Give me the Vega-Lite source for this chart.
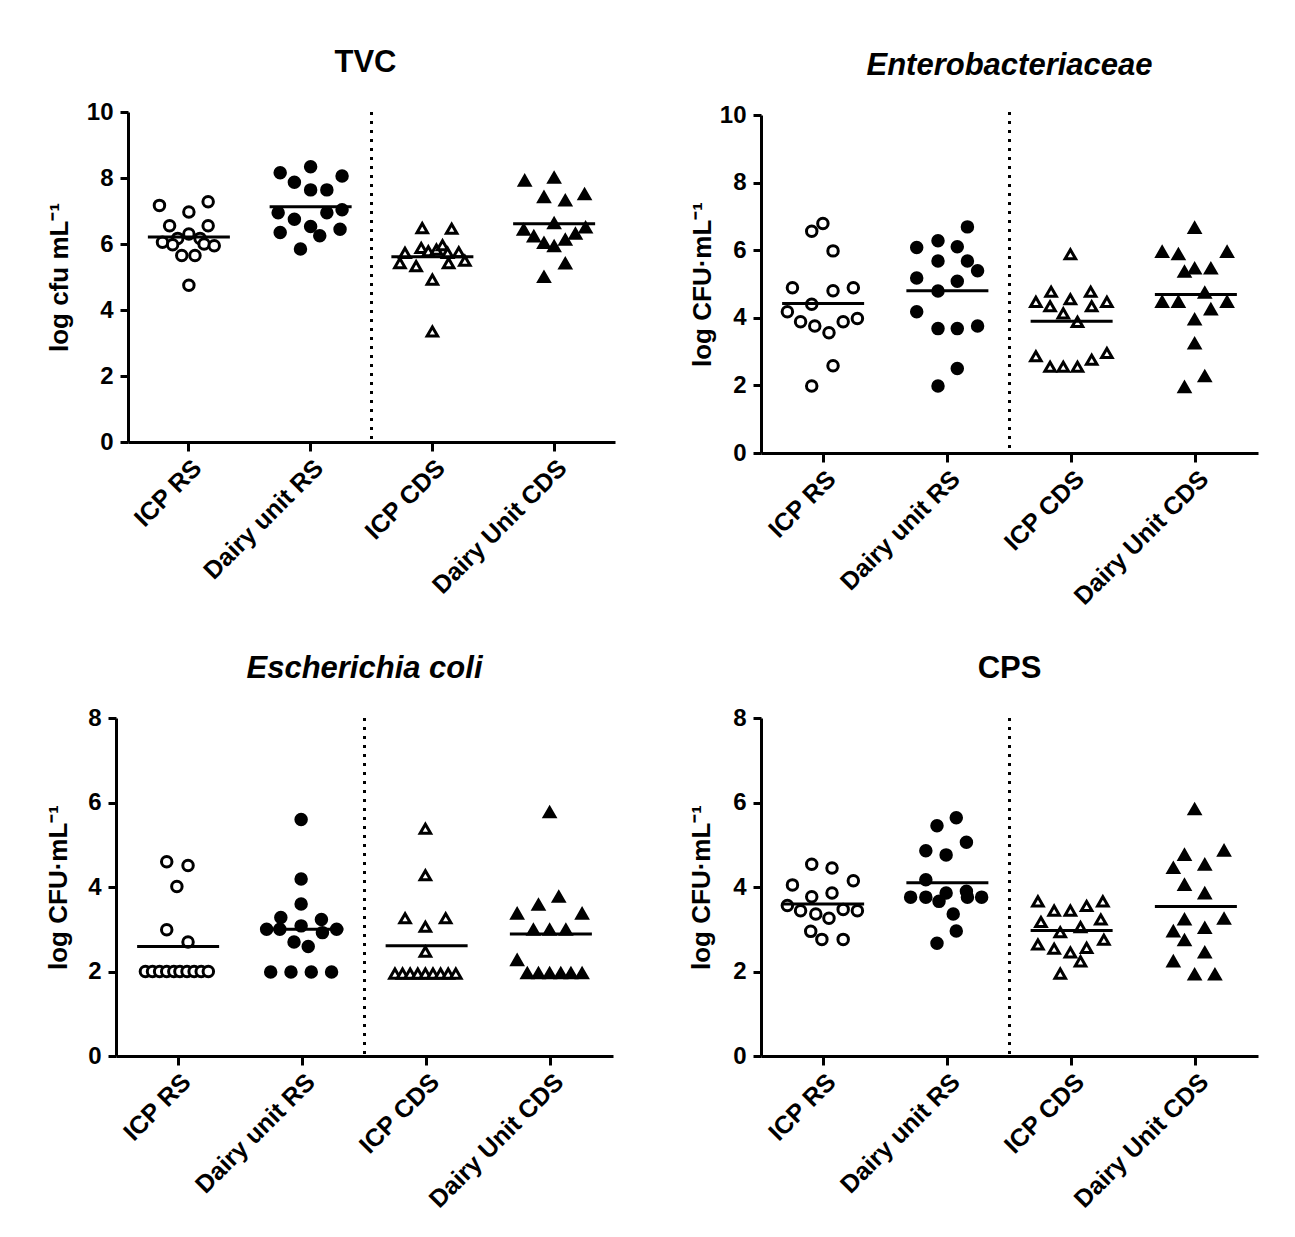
{
  "$schema": "https://vega.github.io/schema/vega-lite/v6.json",
  "background": "white",
  "padding": {"left": 45, "top": 47, "right": 5, "bottom": 5},
  "config": {
    "view": {"stroke": null},
    "font": "Liberation Sans",
    "title": {"font": "Liberation Sans", "fontSize": 31, "fontWeight": "bold", "color": "black", "anchor": "middle", "offset": 21},
    "axis": {"domainColor": "black", "domainWidth": 3, "tickColor": "black", "tickWidth": 3, "tickSize": 8, "labelFont": "Liberation Sans", "labelFontWeight": "bold", "labelFontSize": 24, "labelColor": "black", "titleFont": "Liberation Sans", "titleFontWeight": "bold", "titleFontSize": 26, "titleColor": "black", "grid": false},
    "axisX": {"labelAngle": -45, "labelPadding": 4, "tickSize": 9, "labelFontSize": 25},
    "axisY": {"labelPadding": 7, "titlePadding": 14}
  },
  "datasets": {
    "divider": [{"group": "Dairy unit RS"}],
    "means": [
      {"panel": "TVC", "group": "ICP RS", "mean": 6.21},
      {"panel": "TVC", "group": "Dairy unit RS", "mean": 7.13},
      {"panel": "TVC", "group": "ICP CDS", "mean": 5.61},
      {"panel": "TVC", "group": "Dairy Unit CDS", "mean": 6.61},
      {"panel": "ENT", "group": "ICP RS", "mean": 4.42},
      {"panel": "ENT", "group": "Dairy unit RS", "mean": 4.80},
      {"panel": "ENT", "group": "ICP CDS", "mean": 3.90},
      {"panel": "ENT", "group": "Dairy Unit CDS", "mean": 4.69},
      {"panel": "ECO", "group": "ICP RS", "mean": 2.59},
      {"panel": "ECO", "group": "Dairy unit RS", "mean": 3.00},
      {"panel": "ECO", "group": "ICP CDS", "mean": 2.61},
      {"panel": "ECO", "group": "Dairy Unit CDS", "mean": 2.89},
      {"panel": "CPS", "group": "ICP RS", "mean": 3.60},
      {"panel": "CPS", "group": "Dairy unit RS", "mean": 4.10},
      {"panel": "CPS", "group": "ICP CDS", "mean": 2.97},
      {"panel": "CPS", "group": "Dairy Unit CDS", "mean": 3.54}
    ],
    "pts": [
      {"panel": "TVC", "group": "ICP RS", "value": 7.17, "jitter": -2.9},
      {"panel": "TVC", "group": "ICP RS", "value": 7.28, "jitter": 1.9},
      {"panel": "TVC", "group": "ICP RS", "value": 6.97, "jitter": 0},
      {"panel": "TVC", "group": "ICP RS", "value": 6.55, "jitter": -1.9},
      {"panel": "TVC", "group": "ICP RS", "value": 6.55, "jitter": 1.9},
      {"panel": "TVC", "group": "ICP RS", "value": 6.30, "jitter": 0},
      {"panel": "TVC", "group": "ICP RS", "value": 6.17, "jitter": -1.1},
      {"panel": "TVC", "group": "ICP RS", "value": 6.17, "jitter": 1.1},
      {"panel": "TVC", "group": "ICP RS", "value": 6.05, "jitter": -2.6},
      {"panel": "TVC", "group": "ICP RS", "value": 5.98, "jitter": -1.6},
      {"panel": "TVC", "group": "ICP RS", "value": 6.00, "jitter": 1.5},
      {"panel": "TVC", "group": "ICP RS", "value": 5.95, "jitter": 2.5},
      {"panel": "TVC", "group": "ICP RS", "value": 5.65, "jitter": -0.7},
      {"panel": "TVC", "group": "ICP RS", "value": 5.65, "jitter": 0.6},
      {"panel": "TVC", "group": "ICP RS", "value": 4.75, "jitter": 0},
      {"panel": "TVC", "group": "Dairy unit RS", "value": 8.16, "jitter": -3.0},
      {"panel": "TVC", "group": "Dairy unit RS", "value": 8.34, "jitter": 0},
      {"panel": "TVC", "group": "Dairy unit RS", "value": 8.06, "jitter": 3.1},
      {"panel": "TVC", "group": "Dairy unit RS", "value": 7.87, "jitter": -1.6},
      {"panel": "TVC", "group": "Dairy unit RS", "value": 7.64, "jitter": 0},
      {"panel": "TVC", "group": "Dairy unit RS", "value": 7.64, "jitter": 1.6},
      {"panel": "TVC", "group": "Dairy unit RS", "value": 6.95, "jitter": -3.2},
      {"panel": "TVC", "group": "Dairy unit RS", "value": 6.95, "jitter": 1.6},
      {"panel": "TVC", "group": "Dairy unit RS", "value": 7.04, "jitter": 3.1},
      {"panel": "TVC", "group": "Dairy unit RS", "value": 6.75, "jitter": -1.6},
      {"panel": "TVC", "group": "Dairy unit RS", "value": 6.53, "jitter": 0},
      {"panel": "TVC", "group": "Dairy unit RS", "value": 6.35, "jitter": -3.0},
      {"panel": "TVC", "group": "Dairy unit RS", "value": 6.45, "jitter": 2.9},
      {"panel": "TVC", "group": "Dairy unit RS", "value": 6.25, "jitter": 0.9},
      {"panel": "TVC", "group": "Dairy unit RS", "value": 5.85, "jitter": -1.0},
      {"panel": "TVC", "group": "ICP CDS", "value": 6.48, "jitter": -1.0},
      {"panel": "TVC", "group": "ICP CDS", "value": 6.46, "jitter": 1.9},
      {"panel": "TVC", "group": "ICP CDS", "value": 5.73, "jitter": -2.7},
      {"panel": "TVC", "group": "ICP CDS", "value": 5.88, "jitter": -1.1},
      {"panel": "TVC", "group": "ICP CDS", "value": 5.78, "jitter": -0.4},
      {"panel": "TVC", "group": "ICP CDS", "value": 5.83, "jitter": 0.4},
      {"panel": "TVC", "group": "ICP CDS", "value": 5.96, "jitter": 1.0},
      {"panel": "TVC", "group": "ICP CDS", "value": 5.73, "jitter": 1.5},
      {"panel": "TVC", "group": "ICP CDS", "value": 5.75, "jitter": 2.6},
      {"panel": "TVC", "group": "ICP CDS", "value": 5.42, "jitter": -3.2},
      {"panel": "TVC", "group": "ICP CDS", "value": 5.33, "jitter": -1.6},
      {"panel": "TVC", "group": "ICP CDS", "value": 5.42, "jitter": 1.6},
      {"panel": "TVC", "group": "ICP CDS", "value": 5.49, "jitter": 3.2},
      {"panel": "TVC", "group": "ICP CDS", "value": 4.92, "jitter": 0},
      {"panel": "TVC", "group": "ICP CDS", "value": 3.35, "jitter": 0},
      {"panel": "TVC", "group": "Dairy Unit CDS", "value": 7.92, "jitter": -2.9},
      {"panel": "TVC", "group": "Dairy Unit CDS", "value": 8.01, "jitter": 0},
      {"panel": "TVC", "group": "Dairy Unit CDS", "value": 7.42, "jitter": -1.0},
      {"panel": "TVC", "group": "Dairy Unit CDS", "value": 7.32, "jitter": 1.1},
      {"panel": "TVC", "group": "Dairy Unit CDS", "value": 7.51, "jitter": 3.0},
      {"panel": "TVC", "group": "Dairy Unit CDS", "value": 6.63, "jitter": 0},
      {"panel": "TVC", "group": "Dairy Unit CDS", "value": 6.43, "jitter": -3.0},
      {"panel": "TVC", "group": "Dairy Unit CDS", "value": 6.50, "jitter": 3.1},
      {"panel": "TVC", "group": "Dairy Unit CDS", "value": 6.23, "jitter": -2.0},
      {"panel": "TVC", "group": "Dairy Unit CDS", "value": 6.31, "jitter": 2.1},
      {"panel": "TVC", "group": "Dairy Unit CDS", "value": 6.03, "jitter": -1.0},
      {"panel": "TVC", "group": "Dairy Unit CDS", "value": 6.13, "jitter": 1.1},
      {"panel": "TVC", "group": "Dairy Unit CDS", "value": 5.93, "jitter": 0},
      {"panel": "TVC", "group": "Dairy Unit CDS", "value": 5.41, "jitter": 1.1},
      {"panel": "TVC", "group": "Dairy Unit CDS", "value": 5.00, "jitter": -1.0},

      {"panel": "ENT", "group": "ICP RS", "value": 6.56, "jitter": -1.0},
      {"panel": "ENT", "group": "ICP RS", "value": 6.79, "jitter": 0.1},
      {"panel": "ENT", "group": "ICP RS", "value": 5.98, "jitter": 1.1},
      {"panel": "ENT", "group": "ICP RS", "value": 4.89, "jitter": -2.9},
      {"panel": "ENT", "group": "ICP RS", "value": 4.80, "jitter": 1.1},
      {"panel": "ENT", "group": "ICP RS", "value": 4.89, "jitter": 3.1},
      {"panel": "ENT", "group": "ICP RS", "value": 4.40, "jitter": -1.0},
      {"panel": "ENT", "group": "ICP RS", "value": 4.18, "jitter": -3.4},
      {"panel": "ENT", "group": "ICP RS", "value": 3.88, "jitter": -2.1},
      {"panel": "ENT", "group": "ICP RS", "value": 3.76, "jitter": -0.7},
      {"panel": "ENT", "group": "ICP RS", "value": 3.56, "jitter": 0.7},
      {"panel": "ENT", "group": "ICP RS", "value": 3.88, "jitter": 2.1},
      {"panel": "ENT", "group": "ICP RS", "value": 3.98, "jitter": 3.5},
      {"panel": "ENT", "group": "ICP RS", "value": 2.58, "jitter": 1.1},
      {"panel": "ENT", "group": "ICP RS", "value": 1.98, "jitter": -1.0},
      {"panel": "ENT", "group": "Dairy unit RS", "value": 6.69, "jitter": 2.1},
      {"panel": "ENT", "group": "Dairy unit RS", "value": 6.08, "jitter": -2.9},
      {"panel": "ENT", "group": "Dairy unit RS", "value": 6.28, "jitter": -0.8},
      {"panel": "ENT", "group": "Dairy unit RS", "value": 6.10, "jitter": 1.1},
      {"panel": "ENT", "group": "Dairy unit RS", "value": 5.68, "jitter": -0.8},
      {"panel": "ENT", "group": "Dairy unit RS", "value": 5.68, "jitter": 2.1},
      {"panel": "ENT", "group": "Dairy unit RS", "value": 5.39, "jitter": 3.1},
      {"panel": "ENT", "group": "Dairy unit RS", "value": 5.18, "jitter": -2.9},
      {"panel": "ENT", "group": "Dairy unit RS", "value": 5.08, "jitter": 1.1},
      {"panel": "ENT", "group": "Dairy unit RS", "value": 4.79, "jitter": -0.8},
      {"panel": "ENT", "group": "Dairy unit RS", "value": 4.18, "jitter": -2.9},
      {"panel": "ENT", "group": "Dairy unit RS", "value": 3.68, "jitter": -0.8},
      {"panel": "ENT", "group": "Dairy unit RS", "value": 3.68, "jitter": 1.1},
      {"panel": "ENT", "group": "Dairy unit RS", "value": 3.76, "jitter": 3.1},
      {"panel": "ENT", "group": "Dairy unit RS", "value": 2.50, "jitter": 1.1},
      {"panel": "ENT", "group": "Dairy unit RS", "value": 1.98, "jitter": -0.8},
      {"panel": "ENT", "group": "ICP CDS", "value": 5.88, "jitter": 0},
      {"panel": "ENT", "group": "ICP CDS", "value": 4.77, "jitter": -1.9},
      {"panel": "ENT", "group": "ICP CDS", "value": 4.77, "jitter": 2.0},
      {"panel": "ENT", "group": "ICP CDS", "value": 4.47, "jitter": -3.4},
      {"panel": "ENT", "group": "ICP CDS", "value": 4.34, "jitter": -2.0},
      {"panel": "ENT", "group": "ICP CDS", "value": 4.55, "jitter": 0},
      {"panel": "ENT", "group": "ICP CDS", "value": 4.34, "jitter": 2.1},
      {"panel": "ENT", "group": "ICP CDS", "value": 4.47, "jitter": 3.6},
      {"panel": "ENT", "group": "ICP CDS", "value": 4.13, "jitter": -0.7},
      {"panel": "ENT", "group": "ICP CDS", "value": 3.88, "jitter": 0.7},
      {"panel": "ENT", "group": "ICP CDS", "value": 2.86, "jitter": -3.4},
      {"panel": "ENT", "group": "ICP CDS", "value": 2.55, "jitter": -2.0},
      {"panel": "ENT", "group": "ICP CDS", "value": 2.55, "jitter": -0.7},
      {"panel": "ENT", "group": "ICP CDS", "value": 2.55, "jitter": 0.7},
      {"panel": "ENT", "group": "ICP CDS", "value": 2.76, "jitter": 2.1},
      {"panel": "ENT", "group": "ICP CDS", "value": 2.96, "jitter": 3.6},
      {"panel": "ENT", "group": "Dairy Unit CDS", "value": 6.66, "jitter": 0},
      {"panel": "ENT", "group": "Dairy Unit CDS", "value": 5.95, "jitter": -3.2},
      {"panel": "ENT", "group": "Dairy Unit CDS", "value": 5.88, "jitter": -1.6},
      {"panel": "ENT", "group": "Dairy Unit CDS", "value": 5.95, "jitter": 3.2},
      {"panel": "ENT", "group": "Dairy Unit CDS", "value": 5.36, "jitter": -1.0},
      {"panel": "ENT", "group": "Dairy Unit CDS", "value": 5.46, "jitter": 0},
      {"panel": "ENT", "group": "Dairy Unit CDS", "value": 5.46, "jitter": 1.6},
      {"panel": "ENT", "group": "Dairy Unit CDS", "value": 4.74, "jitter": 1.0},
      {"panel": "ENT", "group": "Dairy Unit CDS", "value": 4.47, "jitter": -3.2},
      {"panel": "ENT", "group": "Dairy Unit CDS", "value": 4.47, "jitter": -1.6},
      {"panel": "ENT", "group": "Dairy Unit CDS", "value": 4.47, "jitter": 3.2},
      {"panel": "ENT", "group": "Dairy Unit CDS", "value": 4.25, "jitter": 1.6},
      {"panel": "ENT", "group": "Dairy Unit CDS", "value": 3.95, "jitter": 0},
      {"panel": "ENT", "group": "Dairy Unit CDS", "value": 3.24, "jitter": 0},
      {"panel": "ENT", "group": "Dairy Unit CDS", "value": 2.27, "jitter": 1.0},
      {"panel": "ENT", "group": "Dairy Unit CDS", "value": 1.95, "jitter": -1.0},

      {"panel": "ECO", "group": "ICP RS", "value": 4.60, "jitter": -1.0},
      {"panel": "ECO", "group": "ICP RS", "value": 4.51, "jitter": 1.1},
      {"panel": "ECO", "group": "ICP RS", "value": 4.01, "jitter": 0},
      {"panel": "ECO", "group": "ICP RS", "value": 2.99, "jitter": -1.0},
      {"panel": "ECO", "group": "ICP RS", "value": 2.70, "jitter": 1.1},
      {"panel": "ECO", "group": "ICP RS", "value": 2.0, "jitter": -3.1},
      {"panel": "ECO", "group": "ICP RS", "value": 2.0, "jitter": -2.4},
      {"panel": "ECO", "group": "ICP RS", "value": 2.0, "jitter": -1.7},
      {"panel": "ECO", "group": "ICP RS", "value": 2.0, "jitter": -1.0},
      {"panel": "ECO", "group": "ICP RS", "value": 2.0, "jitter": -0.3},
      {"panel": "ECO", "group": "ICP RS", "value": 2.0, "jitter": 0.3},
      {"panel": "ECO", "group": "ICP RS", "value": 2.0, "jitter": 1.0},
      {"panel": "ECO", "group": "ICP RS", "value": 2.0, "jitter": 1.7},
      {"panel": "ECO", "group": "ICP RS", "value": 2.0, "jitter": 2.4},
      {"panel": "ECO", "group": "ICP RS", "value": 2.0, "jitter": 3.1},
      {"panel": "ECO", "group": "Dairy unit RS", "value": 5.60, "jitter": 0},
      {"panel": "ECO", "group": "Dairy unit RS", "value": 4.19, "jitter": 0},
      {"panel": "ECO", "group": "Dairy unit RS", "value": 3.60, "jitter": 0},
      {"panel": "ECO", "group": "Dairy unit RS", "value": 3.28, "jitter": -2.0},
      {"panel": "ECO", "group": "Dairy unit RS", "value": 3.23, "jitter": 2.0},
      {"panel": "ECO", "group": "Dairy unit RS", "value": 3.00, "jitter": -3.4},
      {"panel": "ECO", "group": "Dairy unit RS", "value": 3.00, "jitter": -2.1},
      {"panel": "ECO", "group": "Dairy unit RS", "value": 3.08, "jitter": 0},
      {"panel": "ECO", "group": "Dairy unit RS", "value": 2.92, "jitter": 2.1},
      {"panel": "ECO", "group": "Dairy unit RS", "value": 3.00, "jitter": 3.5},
      {"panel": "ECO", "group": "Dairy unit RS", "value": 2.70, "jitter": -0.7},
      {"panel": "ECO", "group": "Dairy unit RS", "value": 2.59, "jitter": 0.7},
      {"panel": "ECO", "group": "Dairy unit RS", "value": 1.99, "jitter": -3.0},
      {"panel": "ECO", "group": "Dairy unit RS", "value": 1.99, "jitter": -1.0},
      {"panel": "ECO", "group": "Dairy unit RS", "value": 1.99, "jitter": 1.0},
      {"panel": "ECO", "group": "Dairy unit RS", "value": 1.99, "jitter": 3.0},
      {"panel": "ECO", "group": "ICP CDS", "value": 5.38, "jitter": 0},
      {"panel": "ECO", "group": "ICP CDS", "value": 4.28, "jitter": 0},
      {"panel": "ECO", "group": "ICP CDS", "value": 3.26, "jitter": -2.0},
      {"panel": "ECO", "group": "ICP CDS", "value": 3.26, "jitter": 2.0},
      {"panel": "ECO", "group": "ICP CDS", "value": 3.06, "jitter": 0},
      {"panel": "ECO", "group": "ICP CDS", "value": 2.47, "jitter": 0},
      {"panel": "ECO", "group": "ICP CDS", "value": 1.95, "jitter": -3.0},
      {"panel": "ECO", "group": "ICP CDS", "value": 1.95, "jitter": -2.25},
      {"panel": "ECO", "group": "ICP CDS", "value": 1.95, "jitter": -1.5},
      {"panel": "ECO", "group": "ICP CDS", "value": 1.95, "jitter": -0.75},
      {"panel": "ECO", "group": "ICP CDS", "value": 1.95, "jitter": 0},
      {"panel": "ECO", "group": "ICP CDS", "value": 1.95, "jitter": 0.75},
      {"panel": "ECO", "group": "ICP CDS", "value": 1.95, "jitter": 1.5},
      {"panel": "ECO", "group": "ICP CDS", "value": 1.95, "jitter": 2.25},
      {"panel": "ECO", "group": "ICP CDS", "value": 1.95, "jitter": 3.0},
      {"panel": "ECO", "group": "Dairy Unit CDS", "value": 5.77, "jitter": 0},
      {"panel": "ECO", "group": "Dairy Unit CDS", "value": 3.77, "jitter": 0.9},
      {"panel": "ECO", "group": "Dairy Unit CDS", "value": 3.58, "jitter": -1.1},
      {"panel": "ECO", "group": "Dairy Unit CDS", "value": 3.37, "jitter": -3.2},
      {"panel": "ECO", "group": "Dairy Unit CDS", "value": 3.37, "jitter": 3.2},
      {"panel": "ECO", "group": "Dairy Unit CDS", "value": 2.99, "jitter": -1.6},
      {"panel": "ECO", "group": "Dairy Unit CDS", "value": 2.99, "jitter": 0},
      {"panel": "ECO", "group": "Dairy Unit CDS", "value": 2.99, "jitter": 1.6},
      {"panel": "ECO", "group": "Dairy Unit CDS", "value": 2.27, "jitter": -3.2},
      {"panel": "ECO", "group": "Dairy Unit CDS", "value": 1.96, "jitter": -2.2},
      {"panel": "ECO", "group": "Dairy Unit CDS", "value": 1.96, "jitter": -1.1},
      {"panel": "ECO", "group": "Dairy Unit CDS", "value": 1.96, "jitter": 0},
      {"panel": "ECO", "group": "Dairy Unit CDS", "value": 1.96, "jitter": 1.1},
      {"panel": "ECO", "group": "Dairy Unit CDS", "value": 1.96, "jitter": 2.1},
      {"panel": "ECO", "group": "Dairy Unit CDS", "value": 1.96, "jitter": 3.2},

      {"panel": "CPS", "group": "ICP RS", "value": 4.54, "jitter": -1.0},
      {"panel": "CPS", "group": "ICP RS", "value": 4.45, "jitter": 1.0},
      {"panel": "CPS", "group": "ICP RS", "value": 4.05, "jitter": -2.9},
      {"panel": "CPS", "group": "ICP RS", "value": 4.15, "jitter": 3.1},
      {"panel": "CPS", "group": "ICP RS", "value": 3.77, "jitter": -1.0},
      {"panel": "CPS", "group": "ICP RS", "value": 3.86, "jitter": 1.0},
      {"panel": "CPS", "group": "ICP RS", "value": 3.56, "jitter": -3.4},
      {"panel": "CPS", "group": "ICP RS", "value": 3.44, "jitter": -2.1},
      {"panel": "CPS", "group": "ICP RS", "value": 3.36, "jitter": -0.6},
      {"panel": "CPS", "group": "ICP RS", "value": 3.26, "jitter": 0.7},
      {"panel": "CPS", "group": "ICP RS", "value": 3.47, "jitter": 2.1},
      {"panel": "CPS", "group": "ICP RS", "value": 3.44, "jitter": 3.5},
      {"panel": "CPS", "group": "ICP RS", "value": 2.95, "jitter": -1.1},
      {"panel": "CPS", "group": "ICP RS", "value": 2.76, "jitter": 0},
      {"panel": "CPS", "group": "ICP RS", "value": 2.76, "jitter": 2.1},
      {"panel": "CPS", "group": "Dairy unit RS", "value": 5.64, "jitter": 1.0},
      {"panel": "CPS", "group": "Dairy unit RS", "value": 5.45, "jitter": -0.9},
      {"panel": "CPS", "group": "Dairy unit RS", "value": 5.06, "jitter": 2.0},
      {"panel": "CPS", "group": "Dairy unit RS", "value": 4.86, "jitter": -2.0},
      {"panel": "CPS", "group": "Dairy unit RS", "value": 4.76, "jitter": 0},
      {"panel": "CPS", "group": "Dairy unit RS", "value": 4.17, "jitter": -2.0},
      {"panel": "CPS", "group": "Dairy unit RS", "value": 3.76, "jitter": -3.5},
      {"panel": "CPS", "group": "Dairy unit RS", "value": 3.76, "jitter": -2.0},
      {"panel": "CPS", "group": "Dairy unit RS", "value": 3.86, "jitter": 0},
      {"panel": "CPS", "group": "Dairy unit RS", "value": 3.66, "jitter": -0.7},
      {"panel": "CPS", "group": "Dairy unit RS", "value": 3.90, "jitter": 2.0},
      {"panel": "CPS", "group": "Dairy unit RS", "value": 3.76, "jitter": 2.1},
      {"panel": "CPS", "group": "Dairy unit RS", "value": 3.76, "jitter": 3.5},
      {"panel": "CPS", "group": "Dairy unit RS", "value": 3.36, "jitter": 0.7},
      {"panel": "CPS", "group": "Dairy unit RS", "value": 2.96, "jitter": 1.0},
      {"panel": "CPS", "group": "Dairy unit RS", "value": 2.67, "jitter": -0.9},
      {"panel": "CPS", "group": "ICP CDS", "value": 3.66, "jitter": -3.2},
      {"panel": "CPS", "group": "ICP CDS", "value": 3.44, "jitter": -1.6},
      {"panel": "CPS", "group": "ICP CDS", "value": 3.44, "jitter": 0},
      {"panel": "CPS", "group": "ICP CDS", "value": 3.55, "jitter": 1.6},
      {"panel": "CPS", "group": "ICP CDS", "value": 3.66, "jitter": 3.2},
      {"panel": "CPS", "group": "ICP CDS", "value": 3.17, "jitter": -2.9},
      {"panel": "CPS", "group": "ICP CDS", "value": 2.93, "jitter": -1.0},
      {"panel": "CPS", "group": "ICP CDS", "value": 3.05, "jitter": 1.0},
      {"panel": "CPS", "group": "ICP CDS", "value": 3.23, "jitter": 3.0},
      {"panel": "CPS", "group": "ICP CDS", "value": 2.64, "jitter": -3.2},
      {"panel": "CPS", "group": "ICP CDS", "value": 2.54, "jitter": -1.6},
      {"panel": "CPS", "group": "ICP CDS", "value": 2.45, "jitter": 0},
      {"panel": "CPS", "group": "ICP CDS", "value": 2.56, "jitter": 1.6},
      {"panel": "CPS", "group": "ICP CDS", "value": 2.75, "jitter": 3.3},
      {"panel": "CPS", "group": "ICP CDS", "value": 2.24, "jitter": 1.0},
      {"panel": "CPS", "group": "ICP CDS", "value": 1.95, "jitter": -1.0},
      {"panel": "CPS", "group": "Dairy Unit CDS", "value": 5.84, "jitter": 0},
      {"panel": "CPS", "group": "Dairy Unit CDS", "value": 4.76, "jitter": -1.0},
      {"panel": "CPS", "group": "Dairy Unit CDS", "value": 4.86, "jitter": 2.9},
      {"panel": "CPS", "group": "Dairy Unit CDS", "value": 4.45, "jitter": -2.1},
      {"panel": "CPS", "group": "Dairy Unit CDS", "value": 4.53, "jitter": 1.0},
      {"panel": "CPS", "group": "Dairy Unit CDS", "value": 4.05, "jitter": -1.0},
      {"panel": "CPS", "group": "Dairy Unit CDS", "value": 3.85, "jitter": 1.0},
      {"panel": "CPS", "group": "Dairy Unit CDS", "value": 3.23, "jitter": -1.0},
      {"panel": "CPS", "group": "Dairy Unit CDS", "value": 3.25, "jitter": 2.9},
      {"panel": "CPS", "group": "Dairy Unit CDS", "value": 2.95, "jitter": -2.1},
      {"panel": "CPS", "group": "Dairy Unit CDS", "value": 3.03, "jitter": 1.0},
      {"panel": "CPS", "group": "Dairy Unit CDS", "value": 2.74, "jitter": -1.0},
      {"panel": "CPS", "group": "Dairy Unit CDS", "value": 2.45, "jitter": 1.0},
      {"panel": "CPS", "group": "Dairy Unit CDS", "value": 2.24, "jitter": -2.1},
      {"panel": "CPS", "group": "Dairy Unit CDS", "value": 1.93, "jitter": 0},
      {"panel": "CPS", "group": "Dairy Unit CDS", "value": 1.93, "jitter": 2.0}
    ]
  },
  "columns": 2,
  "bounds": "full",
  "spacing": {"row": 43, "column": 73},
  "concat": [
    {
      "width": 499, "height": 330,
      "title": {"text": "TVC"},
      "encoding": {"x": {"field": "group", "type": "nominal", "sort": ["ICP RS", "Dairy unit RS", "ICP CDS", "Dairy Unit CDS"], "scale": {"domain": ["ICP RS", "Dairy unit RS", "ICP CDS", "Dairy Unit CDS"], "range": [12, 499], "paddingInner": 0, "paddingOuter": 0}, "axis": {"title": null}}},
      "layer": [
        {"data": {"name": "divider"}, "mark": {"type": "rule", "color": "black", "strokeWidth": 3, "strokeDash": [3, 6]}, "encoding": {"x": {"field": "group", "type": "nominal", "bandPosition": 1}}},
        {"data": {"name": "pts"}, "transform": [{"filter": "datum.panel == 'TVC'"}], "mark": {"type": "point", "filled": true, "stroke": "black", "strokeWidth": 3, "opacity": 1},
         "encoding": {"y": {"field": "value", "type": "quantitative", "scale": {"domain": [0, 10], "nice": false}, "axis": {"values": [0, 2, 4, 6, 8, 10], "title": "log cfu mL⁻¹", "titlePadding": 14, "offset": -12}},
          "xOffset": {"field": "jitter", "type": "quantitative", "scale": {"domain": [-6, 6]}},
          "size": {"field": "group", "type": "nominal", "scale": {"domain": ["ICP RS", "Dairy unit RS", "ICP CDS", "Dairy Unit CDS"], "range": [110, 110, 95, 95]}, "legend": null},
          "shape": {"field": "group", "type": "nominal", "scale": {"domain": ["ICP RS", "Dairy unit RS", "ICP CDS", "Dairy Unit CDS"], "range": ["circle", "circle", "triangle-up", "triangle-up"]}, "legend": null},
          "fill": {"field": "group", "type": "nominal", "scale": {"domain": ["ICP RS", "Dairy unit RS", "ICP CDS", "Dairy Unit CDS"], "range": ["white", "black", "white", "black"]}, "legend": null}}},
        {"data": {"name": "means"}, "transform": [{"filter": "datum.panel == 'TVC'"}], "mark": {"type": "tick", "color": "black", "size": 82, "thickness": 3, "opacity": 1},
         "encoding": {"y": {"field": "mean", "type": "quantitative"}}}
      ]
    },
    {
      "width": 497, "height": 341,
      "title": {"text": "Enterobacteriaceae", "fontStyle": "italic"},
      "encoding": {"x": {"field": "group", "type": "nominal", "sort": ["ICP RS", "Dairy unit RS", "ICP CDS", "Dairy Unit CDS"], "scale": {"domain": ["ICP RS", "Dairy unit RS", "ICP CDS", "Dairy Unit CDS"], "paddingInner": 0, "paddingOuter": 0}, "axis": {"title": null}}},
      "layer": [
        {"data": {"name": "divider"}, "mark": {"type": "rule", "color": "black", "strokeWidth": 3, "strokeDash": [3, 6]}, "encoding": {"x": {"field": "group", "type": "nominal", "bandPosition": 1}}},
        {"data": {"name": "pts"}, "transform": [{"filter": "datum.panel == 'ENT'"}], "mark": {"type": "point", "filled": true, "stroke": "black", "strokeWidth": 3, "opacity": 1},
         "encoding": {"y": {"field": "value", "type": "quantitative", "scale": {"domain": [0, 10], "nice": false, "range": [341, 3]}, "axis": {"values": [0, 2, 4, 6, 8, 10], "title": "log CFU·mL⁻¹", "titlePadding": 4}},
          "xOffset": {"field": "jitter", "type": "quantitative", "scale": {"domain": [-6, 6]}},
          "size": {"field": "group", "type": "nominal", "scale": {"domain": ["ICP RS", "Dairy unit RS", "ICP CDS", "Dairy Unit CDS"], "range": [110, 110, 95, 95]}, "legend": null},
          "shape": {"field": "group", "type": "nominal", "scale": {"domain": ["ICP RS", "Dairy unit RS", "ICP CDS", "Dairy Unit CDS"], "range": ["circle", "circle", "triangle-up", "triangle-up"]}, "legend": null},
          "fill": {"field": "group", "type": "nominal", "scale": {"domain": ["ICP RS", "Dairy unit RS", "ICP CDS", "Dairy Unit CDS"], "range": ["white", "black", "white", "black"]}, "legend": null}}},
        {"data": {"name": "means"}, "transform": [{"filter": "datum.panel == 'ENT'"}], "mark": {"type": "tick", "color": "black", "size": 82, "thickness": 3, "opacity": 1},
         "encoding": {"y": {"field": "mean", "type": "quantitative"}}}
      ]
    },
    {
      "width": 497, "height": 338,
      "title": {"text": "Escherichia coli", "fontStyle": "italic"},
      "encoding": {"x": {"field": "group", "type": "nominal", "sort": ["ICP RS", "Dairy unit RS", "ICP CDS", "Dairy Unit CDS"], "scale": {"domain": ["ICP RS", "Dairy unit RS", "ICP CDS", "Dairy Unit CDS"], "paddingInner": 0, "paddingOuter": 0}, "axis": {"title": null}}},
      "layer": [
        {"data": {"name": "divider"}, "mark": {"type": "rule", "color": "black", "strokeWidth": 3, "strokeDash": [3, 6]}, "encoding": {"x": {"field": "group", "type": "nominal", "bandPosition": 1}}},
        {"data": {"name": "pts"}, "transform": [{"filter": "datum.panel == 'ECO'"}], "mark": {"type": "point", "filled": true, "stroke": "black", "strokeWidth": 3, "opacity": 1},
         "encoding": {"y": {"field": "value", "type": "quantitative", "scale": {"domain": [0, 8], "nice": false}, "axis": {"values": [0, 2, 4, 6, 8], "title": "log CFU·mL⁻¹", "titlePadding": 16}},
          "xOffset": {"field": "jitter", "type": "quantitative", "scale": {"domain": [-6, 6]}},
          "size": {"field": "group", "type": "nominal", "scale": {"domain": ["ICP RS", "Dairy unit RS", "ICP CDS", "Dairy Unit CDS"], "range": [110, 110, 95, 95]}, "legend": null},
          "shape": {"field": "group", "type": "nominal", "scale": {"domain": ["ICP RS", "Dairy unit RS", "ICP CDS", "Dairy Unit CDS"], "range": ["circle", "circle", "triangle-up", "triangle-up"]}, "legend": null},
          "fill": {"field": "group", "type": "nominal", "scale": {"domain": ["ICP RS", "Dairy unit RS", "ICP CDS", "Dairy Unit CDS"], "range": ["white", "black", "white", "black"]}, "legend": null}}},
        {"data": {"name": "means"}, "transform": [{"filter": "datum.panel == 'ECO'"}], "mark": {"type": "tick", "color": "black", "size": 82, "thickness": 3, "opacity": 1},
         "encoding": {"y": {"field": "mean", "type": "quantitative"}}}
      ]
    },
    {
      "width": 497, "height": 338,
      "title": {"text": "CPS"},
      "encoding": {"x": {"field": "group", "type": "nominal", "sort": ["ICP RS", "Dairy unit RS", "ICP CDS", "Dairy Unit CDS"], "scale": {"domain": ["ICP RS", "Dairy unit RS", "ICP CDS", "Dairy Unit CDS"], "paddingInner": 0, "paddingOuter": 0}, "axis": {"title": null}}},
      "layer": [
        {"data": {"name": "divider"}, "mark": {"type": "rule", "color": "black", "strokeWidth": 3, "strokeDash": [3, 6]}, "encoding": {"x": {"field": "group", "type": "nominal", "bandPosition": 1}}},
        {"data": {"name": "pts"}, "transform": [{"filter": "datum.panel == 'CPS'"}], "mark": {"type": "point", "filled": true, "stroke": "black", "strokeWidth": 3, "opacity": 1},
         "encoding": {"y": {"field": "value", "type": "quantitative", "scale": {"domain": [0, 8], "nice": false}, "axis": {"values": [0, 2, 4, 6, 8], "title": "log CFU·mL⁻¹", "titlePadding": 18}},
          "xOffset": {"field": "jitter", "type": "quantitative", "scale": {"domain": [-6, 6]}},
          "size": {"field": "group", "type": "nominal", "scale": {"domain": ["ICP RS", "Dairy unit RS", "ICP CDS", "Dairy Unit CDS"], "range": [110, 110, 95, 95]}, "legend": null},
          "shape": {"field": "group", "type": "nominal", "scale": {"domain": ["ICP RS", "Dairy unit RS", "ICP CDS", "Dairy Unit CDS"], "range": ["circle", "circle", "triangle-up", "triangle-up"]}, "legend": null},
          "fill": {"field": "group", "type": "nominal", "scale": {"domain": ["ICP RS", "Dairy unit RS", "ICP CDS", "Dairy Unit CDS"], "range": ["white", "black", "white", "black"]}, "legend": null}}},
        {"data": {"name": "means"}, "transform": [{"filter": "datum.panel == 'CPS'"}], "mark": {"type": "tick", "color": "black", "size": 82, "thickness": 3, "opacity": 1},
         "encoding": {"y": {"field": "mean", "type": "quantitative"}}}
      ]
    }
  ]
}
